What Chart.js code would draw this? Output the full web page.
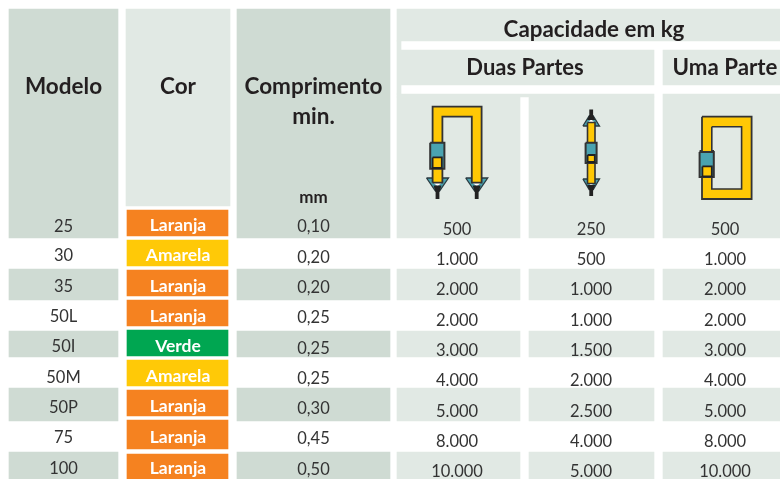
<!DOCTYPE html>
<html><head><meta charset="utf-8">
<style>html,body{margin:0;padding:0;background:#fff}canvas{display:block}</style>
<script src="https://cdn.jsdelivr.net/npm/chart.js@4"></script>
</head><body><canvas id="c" width="780" height="479"></canvas>
<script>
const models = ['25','30','35','50L','50I','50M','50P','75','100'];
const colorNames = ['Laranja','Amarela','Laranja','Laranja','Verde','Amarela','Laranja','Laranja','Laranja'];
const minLengths = ['0,10','0,20','0,20','0,25','0,25','0,25','0,30','0,45','0,50'];
const capTwoLoop = ['500','1.000','2.000','2.000','3.000','4.000','5.000','8.000','10.000'];
const capTwoStraight = ['250','500','1.000','1.000','1.500','2.000','2.500','4.000','5.000'];
const capOne = ['500','1.000','2.000','2.000','3.000','4.000','5.000','8.000','10.000'];

const DARK='#cfdbd3', LIGHT='#e1e9e4', INK='#231f20', BODY='#333333', LINE='#333333', TEAL='#4aa3b0', GOLD='#ffc805';
const swatch={Laranja:'#f58220',Amarela:'#ffc907',Verde:'#00a651'};
const FONT='Lato, Carlito, sans-serif';

// layout of the table in scale units
const colModel=[9,118], colName=[127,228], colLen=[237,390], colA=[397,520], colB=[529,654], colC=[663,780];
const nameTop=[210,240,270,300,330,360,390,420,454], nameBottom=[236,266,296,326,356,386,416,449,479];
const stripes=[[269,300],[331,357],[388,421],[452,479]];
const yModel=[227,256,287,317,347,378,408,438,469], yName=[225.5,255.5,286.5,316.5,346.5,376.5,406.5,437.5,468];
const yLen=[227,258,288,318,349,379,409,439,470], yCap=[230,260,290,321,351,381,412,442,472];

const layers=[];
function cell(x,y,color){
  layers.push({type:'bar',indexAxis:'y',grouped:false,barThickness:y[1]-y[0],backgroundColor:color,borderWidth:0,
    data:[{x:[x[0],x[1]],y:(y[0]+y[1])/2}]});
}
function poly(pts,fill,stroke,w){
  const closed=pts.concat([pts[0]]).map(p=>({x:p[0],y:p[1]}));
  layers.push({type:'line',data:closed,pointRadius:0,tension:0,borderColor:stroke||'rgba(0,0,0,0)',borderWidth:stroke?(w||1.6):0,
    backgroundColor:fill||'rgba(0,0,0,0)',fill:fill?'shape':false,borderJoinStyle:'miter'});
}
function box(x0,y0,x1,y1,fill,stroke,w){poly([[x0,y0],[x1,y0],[x1,y1],[x0,y1]],fill,stroke,w);}

// header and striped backgrounds
cell(colModel,[9,238],DARK);
cell([126,230],[9,206],LIGHT);
cell(colLen,[9,238],DARK);
cell([397,780],[9,41],LIGHT);
cell([397,401],[41,94],LIGHT);
cell([401,654],[50,85],LIGHT);
cell(colC,[50,85],LIGHT);
cell([397,654],[94,97],LIGHT);
cell(colA,[97,238],LIGHT);
cell(colB,[97,238],LIGHT);
cell(colC,[94,238],LIGHT);
stripes.forEach(s=>{
  cell(colModel,s,DARK);cell(colLen,s,DARK);
  cell(colA,s,LIGHT);cell(colB,s,LIGHT);cell(colC,s,LIGHT);
});
colorNames.forEach((n,i)=>cell(colName,[nameTop[i],nameBottom[i]],swatch[n]));

// rigging icons
function hook(cx,base,tip,half,dir){
  const k=Math.abs(tip-base)/21;
  poly([[cx-half,base],[cx-half*0.5,base],[cx,base+dir*8*k],[cx+half*0.5,base],[cx+half,base],[cx+2,base+dir*13*k],[cx-2,base+dir*13*k]],TEAL,'#2a3a40',1.3);
  poly([[cx-half*0.45,base+dir*4*k],[cx+half*0.45,base+dir*4*k],[cx,base+dir*8.5*k]],'#ffffff');
  poly([[cx-4,base+dir*7.5*k],[cx+4,base+dir*7.5*k],[cx+1.9,base+dir*14*k],[cx+1.9,tip],[cx-1.9,tip],[cx-1.9,base+dir*14*k]],'#222222');
}
// two-part loop
hook(437.5,178,199,11,1);
hook(476.7,178,199,11,1);
poly([[432.6,182.7],[432.6,106.7],[481.6,106.7],[481.6,182.7],[471.8,182.7],[471.8,116.7],[442.4,116.7],[442.4,182.7]],GOLD,LINE,1.8);
box(430.2,142.8,444.4,168.8,TEAL,LINE,2);
box(432.6,157.4,441.8,168,GOLD,'#222222',1.8);
// two-part straight
hook(591.2,126,109.5,8.3,-1);
hook(591.2,179,196,8.3,1);
box(587.5,122.5,595,183.5,GOLD,LINE,1.6);
box(585.6,142.8,596.6,163,TEAL,LINE,2);
box(587.6,155,594.8,162,GOLD,'#222222',1.8);
// one-part endless
box(702,116.7,751.6,199,GOLD,LINE,1.8);
box(711.8,126.7,741.6,189,LIGHT,LINE,1.6);
box(699.6,152,713.8,177,TEAL,LINE,2);
box(702.4,166.4,711.8,176.4,GOLD,'#222222',1.8);
poly([[699.6,152],[699.6,150],[702,150],[702,152]],LINE);
poly([[711.6,152],[711.6,150],[714,150],[714,152]],LINE);

layers.forEach((d,i)=>{d.order=layers.length-i;});

const headers=[
  ['Modelo',63.5,87,22.5],['Cor',178,87,22.5],['Comprimento',313.5,87,22.5],['min.',313.5,117,22.5],['mm',313.5,197.5,17],
  ['Capacidade em kg',594,29.5,22.4],['Duas Partes',525,67.5,22],['Uma Parte',725,67.5,22.3]
];
const tableText={id:'tableText',afterDatasetsDraw(chart){
  const {ctx,scales:{x,y}}=chart;
  ctx.save();ctx.textAlign='center';ctx.textBaseline='middle';
  const put=(t,cx,cy,font,color)=>{ctx.font=font;ctx.fillStyle=color;ctx.fillText(t,x.getPixelForValue(cx),y.getPixelForValue(cy));};
  headers.forEach(h=>put(h[0],h[1],h[2],'bold '+h[3]+'px '+FONT,INK));
  const body='16.5px '+FONT;
  models.forEach((m,i)=>{
    put(m,63.5,yModel[i],body,BODY);
    put(colorNames[i],178,yName[i],'bold 17.5px '+FONT,'#ffffff');
    put(minLengths[i],313.5,yLen[i],body,BODY);
    put(capTwoLoop[i],457,yCap[i],body,BODY);
    put(capTwoStraight[i],591,yCap[i],body,BODY);
    put(capOne[i],725,yCap[i],body,BODY);
  });
  ctx.restore();
}};

new Chart(document.getElementById('c'),{
  type:'bar',
  data:{datasets:layers},
  plugins:[tableText],
  options:{
    responsive:false,animation:false,
    layout:{padding:0,autoPadding:false},
    plugins:{legend:{display:false},tooltip:{enabled:false},title:{display:false}},
    scales:{
      x:{type:'linear',min:0,max:780,offset:false,display:false,grid:{display:false}},
      y:{type:'linear',min:0,max:479,offset:false,reverse:true,display:false,grid:{display:false}}
    }
  }
});
</script></body></html>
